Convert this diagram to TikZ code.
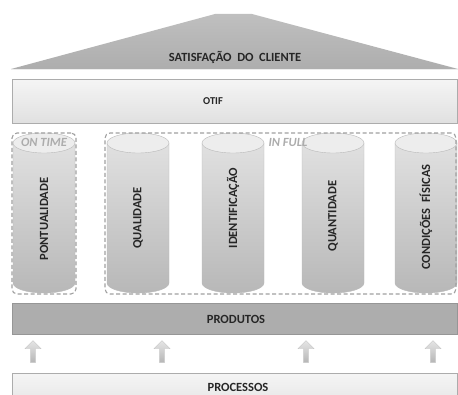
\documentclass[tikz,border=0pt]{standalone}
\usepackage{fontspec}
\setmainfont{Carlito}
\usetikzlibrary{shapes.arrows}
\begin{document}
\begin{tikzpicture}[x=1pt,y=1pt,
  lbl/.style={font=\bfseries\fontsize{12.5}{14}\selectfont, text=black!85},
  band/.style={draw=gray!65, minimum width=445pt, inner sep=0pt, anchor=north west},
  dbox/.style={draw=gray!75, line width=1.1pt, dash pattern=on 4pt off 2.5pt, rounded corners=5pt, inner sep=0pt},
  tag/.style={font=\bfseries\itshape\fontsize{12.5}{14}\selectfont, text=gray!65},
  uparrow/.style={single arrow, shape border rotate=90, minimum height=22pt, minimum width=16pt,
    single arrow head extend=4.5pt, single arrow head indent=0pt, inner sep=2pt,
    top color=gray!20, bottom color=gray!58, draw=gray!45, line width=0.3pt}]
\useasboundingbox (0,0) rectangle (458,394);

% roof
\shade[top color=gray!50, bottom color=gray!64] (11,325) -- (215,380) -- (252,380) -- (458,325) -- cycle;
\draw[white!85!gray, line width=0.8pt] (11,324.5) -- (458,324.5);
\node[lbl] (roof) at (235,337) {SATISFAÇÃO\ \ DO\ \ CLIENTE};

% OTIF beam
\node[band, minimum height=44pt, top color=gray!8, bottom color=gray!24] (otif) at (12,315) {};
\node[lbl, font=\bfseries\fontsize{10.5}{12}\selectfont] (otiftxt) at (213,293) {OTIF};

% pillars
\foreach \cx/\nm/\lab/\ly in {44/p1/PONTUALIDADE/175, 138/p2/QUALIDADE/176, 233/p3/IDENTIFICAÇÃO/186,
                              333/p4/QUANTIDADE/178, 426/p5/CONDIÇÕES\ \ FÍSICAS/177}{
  \shade[top color=gray!24, bottom color=gray!56, draw=gray!55, line width=0.4pt]
    (\cx-31,251) -- (\cx-31,111) arc[start angle=180, end angle=360, x radius=31, y radius=10]
    -- (\cx+31,251) -- cycle;
  \filldraw[fill=gray!14, draw=gray!55, line width=0.4pt] (\cx,251) ellipse[x radius=31, y radius=10];
  \node[lbl, rotate=90] (\nm) at (\cx,\ly) {\lab};
}

% groupings
\node[dbox, minimum width=64pt, minimum height=161pt] (ontime) at (44,180.5) {};
\node[dbox, minimum width=351pt, minimum height=161pt] (infull) at (280.5,180.5) {};
\node[tag] (ontimetxt) at (44,252) {ON TIME};
\node[tag] (infulltxt) at (288,252) {IN FULL};

% products beam
\node[band, minimum height=31pt, fill=gray!64, draw=gray!82] (prod) at (12,91) {};
\node[lbl] (prodtxt) at (236,75) {PRODUTOS};

% arrows
\foreach \ax/\an in {33/a1, 162/a2, 306/a3, 433/a4}{
  \node[uparrow] (\an) at (\ax,41) {};
}

% processes beam
\node[band, minimum height=26pt, top color=gray!8, bottom color=gray!18] (proc) at (12,21) {};
\node[lbl] (proctxt) at (238,7) {PROCESSOS};
\end{tikzpicture}
\end{document}
